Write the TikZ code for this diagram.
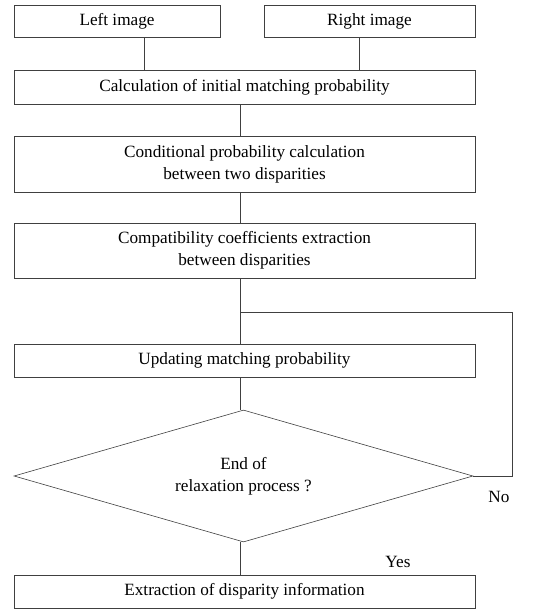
\documentclass[tikz,border=0pt]{standalone}
\usepackage{fontspec}
\setmainfont{Liberation Serif}
\usetikzlibrary{shapes.geometric}

\begin{document}
\begin{tikzpicture}[x=1pt,y=-1pt,line width=.6pt,
    every node/.style={font=\fontsize{17.2}{22}\selectfont},
    block/.style={draw=black!75,minimum width=461pt,align=center,inner sep=0pt},
    decide/.style={draw=black!75,shape=diamond,aspect=3.5,inner sep=0pt,
        minimum width=459pt,minimum height=132pt,align=center}]
        \useasboundingbox (0,0) rectangle (534,609);
        \coordinate (axis) at (240,0);
        \coordinate (fb) at (512,312);

        \node[block,minimum width=206pt,minimum height=32pt] (left) at (117,21) {Left image};
        \node[block,minimum width=211pt,minimum height=32pt] (right) at (369.5,21) {Right image};
        \node[block,minimum height=34pt] (calc) at (244.5,87) {Calculation of initial matching probability};
        \node[block,minimum height=56pt] (cond) at (244.5,164) {Conditional probability calculation\\between two disparities};
        \node[block,minimum height=55pt] (compat) at (244.5,250.5) {Compatibility coefficients extraction\\between disparities};
        \node[block,minimum height=33pt] (upd) at (244.5,360.5) {Updating matching probability};
        \node[decide] (end) at (243.5,476) {End of\\relaxation process ?};
        \node[block,minimum height=33pt] (extr) at (244.5,591.5) {Extraction of disparity information};
        \node (no) at (499,497) {No};
        \node (yes) at (398,562) {Yes};

        \draw[black!75] ([xshift=27pt]left.south) -- ([xshift=27pt]left.south |- calc.north);
        \draw[black!75] ([xshift=-10.5pt]right.south) -- ([xshift=-10.5pt]right.south |- calc.north);
        \draw[black!75] (calc.south -| axis) -- (cond.north -| axis);
        \draw[black!75] (cond.south -| axis) -- (compat.north -| axis);
        \draw[black!75] (compat.south -| axis) -- (upd.north -| axis);
        \draw[black!75] (upd.south -| axis) -- (end.north -| axis);
        \draw[black!75] (end.south -| axis) -- (extr.north -| axis);
        \draw[black!75] (end.east) -- (end.east -| fb) -- (fb) -- (fb -| axis);
\end{tikzpicture}
\end{document}
